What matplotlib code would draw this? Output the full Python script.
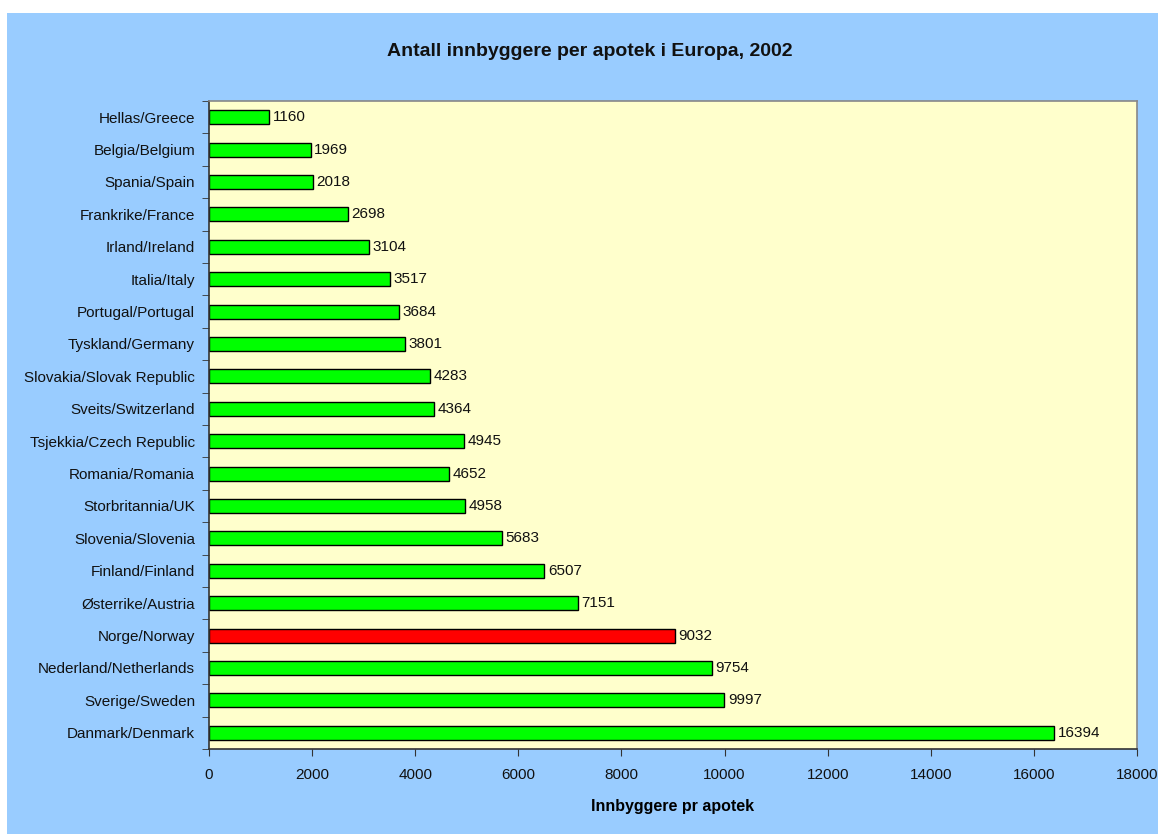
import matplotlib

matplotlib.use("Agg")
import matplotlib.pyplot as plt
from matplotlib.patches import Rectangle
import numpy as np

# top to bottom
countries = [
    "Hellas/Greece",
    "Belgia/Belgium",
    "Spania/Spain",
    "Frankrike/France",
    "Irland/Ireland",
    "Italia/Italy",
    "Portugal/Portugal",
    "Tyskland/Germany",
    "Slovakia/Slovak Republic",
    "Sveits/Switzerland",
    "Tsjekkia/Czech Republic",
    "Romania/Romania",
    "Storbritannia/UK",
    "Slovenia/Slovenia",
    "Finland/Finland",
    "Østerrike/Austria",
    "Norge/Norway",
    "Nederland/Netherlands",
    "Sverige/Sweden",
    "Danmark/Denmark",
]
residents = [1160, 1969, 2018, 2698, 3104, 3517, 3684, 3801, 4283, 4364,
             4945, 4652, 4958, 5683, 6507, 7151, 9032, 9754, 9997, 16394]
highlight = "Norge/Norway"
xticks = list(range(0, 18001, 2000))

plt.rcParams["font.family"] = ["Liberation Sans", "DejaVu Sans"]

fig = plt.figure(figsize=(11.58, 8.34), dpi=100, facecolor="white")
fig.patches.append(Rectangle((7 / 1158, 0), 1, 821 / 834, transform=fig.transFigure,
                             facecolor="#99CCFF", edgecolor="none", zorder=-10))

ax = fig.add_axes([209 / 1158, 1 - 749 / 834, 928 / 1158, 648 / 834])
ax.set_facecolor("#FFFFCC")

y = np.arange(len(countries))
colors = ["#FF0000" if c == highlight else "#00FF00" for c in countries]
ax.barh(y, residents, height=0.43, color=colors, edgecolor="black", linewidth=1.0)
for yi, v in zip(y, residents):
    ax.text(v + 70, yi, str(v), va="center", ha="left", fontsize=11, color="#111111")

ax.set_ylim(len(countries) - 0.5, -0.5)
ax.set_xlim(0, 18000)
ax.set_yticks(y)
ax.set_yticklabels(countries, fontsize=11, color="#111111")
ax.set_yticks(np.arange(len(countries) + 1) - 0.5, minor=True)
ax.tick_params(axis="y", which="major", length=0, pad=10)
ax.tick_params(axis="y", which="minor", length=5, direction="out", color="#333333")
ax.set_xticks(xticks)
ax.set_xticklabels([str(t) for t in xticks], fontsize=11, color="#111111")
ax.tick_params(axis="x", length=5, direction="out", color="#333333", pad=9)

for side in ("left", "bottom"):
    ax.spines[side].set_color("#333333")
    ax.spines[side].set_linewidth(1.2)
for side in ("top", "right"):
    ax.spines[side].set_color("#888888")
    ax.spines[side].set_linewidth(1.2)

ax.set_xlabel("Innbyggere pr apotek", fontsize=11.5, fontweight="bold", labelpad=12)
fig.text(590 / 1158, 1 - 51 / 834, "Antall innbyggere per apotek i Europa, 2002",
         ha="center", va="center", fontsize=14, fontweight="bold", color="#111111")

fig.savefig("out.png", dpi=100, facecolor=fig.get_facecolor())
